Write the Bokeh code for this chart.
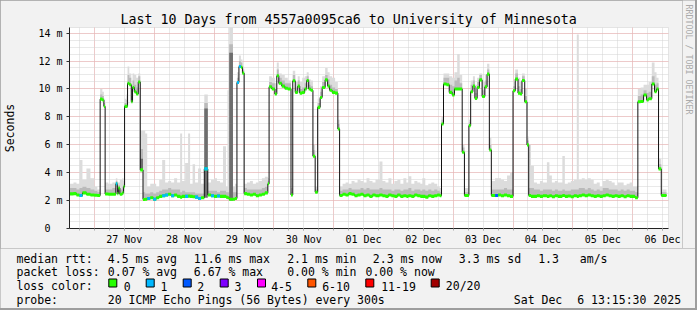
from math import pi
from bokeh.plotting import figure
from bokeh.layouts import column, row
from bokeh.models import Range1d, FixedTicker, Label, BoxAnnotation, Title
from bokeh.embed import file_html
from bokeh.resources import INLINE

# ---------------- data (hours since 26 Nov 00:00, values in ms) ----------------
hours = [14.0, 15.6, 16.8, 18.0, 19.2, 20.8, 22.4, 24.0, 25.2, 26.3, 27.2, 27.8,
         28.3, 29.6, 31.2, 32.6, 33.2, 33.6, 34.2, 35.2, 35.7, 36.1, 36.8, 37.3,
         38.0, 38.8, 39.3, 40.0, 40.8, 41.6, 42.4, 43.5, 44.4, 45.2, 46.4, 47.6,
         48.8, 50.0, 51.2, 52.4, 53.6, 54.8, 56.0, 57.2, 58.4, 59.2, 60.4, 61.6,
         62.4, 63.4, 64.4, 65.6, 66.8, 68.1, 69.5, 70.8, 72.0, 73.2, 74.4, 75.6,
         76.8, 77.4, 78.1, 79.6, 80.4, 81.2, 82.0, 82.8, 83.4, 84.1, 85.2, 86.4,
         87.6, 88.8, 90.0, 91.2, 92.4, 93.6, 94.1, 95.2, 96.4, 97.2, 98.0, 99.2,
         100.4, 101.6, 102.9, 103.6, 104.6, 105.6, 106.4, 107.4, 108.4, 109.2, 110.0, 110.8,
         111.7, 112.6, 113.6, 114.6, 115.4, 116.6, 117.6, 118.4, 119.4, 120.6, 121.7, 122.4,
         123.6, 124.8, 126.0, 127.2, 128.4, 129.6, 130.8, 132.0, 133.2, 134.4, 135.6, 136.8,
         138.4, 139.6, 140.8, 142.0, 143.2, 144.4, 145.6, 146.8, 148.0, 149.2, 150.0, 151.2,
         152.4, 153.6, 154.8, 155.6, 156.8, 158.0, 159.2, 160.4, 161.6, 162.6, 163.3, 164.1,
         165.3, 166.4, 167.6, 168.5, 169.6, 170.6, 171.6, 172.5, 174.3, 175.0, 175.9, 176.7,
         177.6, 178.5, 179.6, 180.7, 181.6, 182.5, 183.3, 184.8, 186.0, 187.2, 188.4, 189.6,
         190.8, 192.0, 192.9, 194.0, 194.9, 195.6, 196.7, 197.6, 198.3, 199.2, 200.4, 201.6,
         202.8, 204.0, 205.6, 206.6, 207.6, 208.8, 210.0, 211.8, 212.8, 214.0, 215.2, 216.4,
         217.6, 218.4, 219.6, 220.8, 222.0, 223.2, 224.4, 225.6, 226.8, 228.0, 229.2, 230.4,
         231.6, 232.8, 234.0, 235.2, 236.4, 237.6, 238.8, 240.0, 241.0, 242.1, 243.2, 244.4,
         245.6, 246.4, 247.7, 248.8, 249.6, 250.4, 251.5]
end_hour = 253.6

median = [2.48, 2.50, 2.40, 2.36, 2.55, 2.45, 2.40, 2.38, 2.36, 9.27, 9.20, 8.75,
          2.47, 2.45, 2.45, 3.20, 2.50, 2.90, 2.45, 2.55, 3.00, 8.75, 8.75, 10.40,
          10.30, 9.08, 10.10, 9.80, 9.63, 10.50, 4.20, 2.08, 2.10, 2.15, 2.20, 2.10,
          2.20, 2.30, 2.35, 2.40, 2.45, 2.35, 2.40, 2.30, 2.25, 2.30, 2.30, 2.32,
          2.30, 2.28, 2.25, 2.15, 2.20, 4.27, 2.40, 2.35, 2.30, 2.33, 2.30, 2.30,
          2.25, 2.20, 2.10, 2.10, 2.15, 10.46, 11.60, 11.55, 11.13, 2.50, 2.45, 2.40,
          2.45, 2.35, 2.40, 2.45, 2.55, 3.20, 10.15, 10.00, 9.63, 10.94, 10.40, 10.20,
          10.05, 10.00, 2.40, 10.58, 9.75, 10.20, 9.70, 9.75, 10.00, 10.60, 10.00, 9.90,
          5.18, 2.60, 8.68, 9.39, 10.10, 10.65, 10.20, 9.90, 9.75, 9.70, 7.13, 2.37,
          2.45, 2.40, 2.50, 2.45, 2.35, 2.40, 2.45, 2.35, 2.40, 2.30, 2.40, 2.35,
          2.40, 2.35, 2.30, 2.40, 2.35, 2.30, 2.40, 2.30, 2.35, 2.30, 2.35, 2.30,
          2.40, 2.35, 2.30, 2.30, 2.25, 2.35, 2.30, 2.35, 2.40, 2.35, 7.49, 10.35,
          10.30, 9.75, 9.56, 10.00, 10.00, 10.00, 5.46, 2.37, 7.37, 9.80, 10.20, 9.32,
          10.10, 10.65, 9.46, 10.15, 11.06, 5.63, 2.37, 2.37, 2.40, 2.35, 2.40, 2.35,
          2.30, 9.87, 10.70, 9.70, 9.63, 10.60, 9.08, 5.99, 2.37, 2.30, 2.30, 2.35,
          2.30, 2.35, 2.30, 2.35, 2.28, 2.35, 2.30, 2.36, 2.30, 2.33, 2.28, 2.35,
          2.30, 2.35, 2.40, 2.35, 2.40, 2.35, 2.30, 2.35, 2.30, 2.35, 2.40, 2.35,
          2.30, 2.35, 2.30, 2.35, 2.28, 2.35, 2.30, 2.30, 2.20, 9.08, 9.10, 9.56,
          9.20, 9.30, 10.35, 9.80, 10.00, 4.27, 2.37]

smoke_mid = [2.9, 2.9, 2.8, 2.9, 3.0, 2.9, 2.8, 2.7, 2.6, 9.6, 9.5, 9.0,
             2.8, 2.8, 2.9, 3.4, 2.9, 3.1, 2.8, 3.0, 3.2, 9.0, 9.2, 11.0,
             10.8, 9.5, 10.6, 10.3, 10.1, 10.9, 5.7, 2.6, 2.5, 2.5, 2.6, 2.5,
             2.6, 2.7, 2.8, 2.8, 2.9, 2.8, 2.8, 2.8, 2.6, 2.7, 2.6, 2.6,
             2.6, 2.6, 2.5, 2.5, 2.5, 9.0, 2.7, 2.7, 2.7, 2.6, 2.7, 2.7,
             2.6, 2.6, 13.2, 2.6, 2.6, 10.8, 12.0, 11.9, 11.4, 2.9, 2.8, 2.8,
             2.8, 2.8, 2.8, 2.9, 3.0, 3.4, 10.5, 10.4, 10.0, 11.4, 10.8, 10.6,
             10.4, 10.4, 2.6, 11.0, 10.1, 10.6, 10.0, 10.1, 10.4, 10.9, 10.3, 10.2,
             5.6, 2.8, 9.0, 9.8, 10.5, 11.0, 10.7, 10.3, 10.1, 10.0, 7.5, 2.7,
             2.8, 2.8, 2.9, 2.8, 2.8, 2.8, 2.9, 2.8, 2.9, 2.8, 2.8, 2.8,
             2.9, 2.8, 2.8, 2.8, 2.7, 2.8, 2.8, 2.7, 2.8, 2.8, 2.9, 2.7,
             2.8, 2.8, 2.7, 2.8, 2.7, 2.8, 2.7, 2.8, 2.7, 2.6, 7.8, 10.8,
             10.8, 10.3, 10.2, 10.6, 10.8, 10.4, 5.8, 2.6, 7.6, 10.3, 10.6, 9.7,
             10.5, 11.0, 9.9, 10.6, 11.4, 6.0, 2.8, 2.8, 2.8, 2.8, 2.9, 2.8,
             2.8, 10.2, 11.1, 10.2, 10.0, 10.9, 9.5, 6.3, 2.9, 2.9, 2.8, 2.8,
             2.7, 2.8, 2.8, 2.8, 2.7, 2.8, 2.7, 2.8, 2.7, 2.7, 2.8, 2.8,
             2.8, 2.9, 2.9, 2.8, 2.9, 2.8, 2.7, 2.8, 2.7, 2.9, 2.9, 2.8,
             2.8, 2.8, 2.7, 2.8, 2.7, 2.8, 2.7, 2.7, 2.6, 9.5, 9.6, 9.9,
             9.7, 9.8, 10.9, 10.3, 10.4, 4.6, 2.6]

smoke_top = [3.2, 3.3, 3.2, 4.9, 3.5, 4.3, 3.6, 3.0, 2.8, 10.0, 9.8, 9.3,
             3.3, 3.2, 3.3, 3.6, 3.3, 3.3, 3.5, 3.6, 3.4, 9.3, 9.6, 11.6,
             11.1, 10.3, 11.1, 11.0, 10.8, 11.1, 7.0, 7.0, 6.8, 3.0, 3.2, 3.2,
             3.0, 3.5, 4.9, 3.3, 3.4, 3.3, 3.6, 3.3, 6.8, 3.4, 4.7, 6.8,
             3.2, 4.6, 3.3, 4.3, 3.2, 9.6, 3.3, 3.5, 3.6, 3.4, 3.3, 5.9,
             3.0, 9.9, 14.5, 3.0, 3.2, 11.2, 12.4, 12.1, 11.6, 3.2, 3.3, 3.4,
             3.2, 3.3, 3.4, 3.6, 3.7, 3.6, 10.9, 10.8, 10.4, 11.9, 11.1, 11.0,
             10.8, 10.6, 2.9, 11.3, 10.5, 10.9, 10.5, 10.8, 10.9, 11.2, 10.7, 10.6,
             6.0, 3.0, 9.3, 10.2, 10.9, 11.5, 11.2, 10.9, 10.8, 10.5, 7.8, 3.0,
             3.2, 3.3, 3.2, 3.4, 3.3, 3.5, 3.4, 3.3, 3.6, 3.4, 3.3, 3.5,
             4.8, 3.4, 3.3, 3.6, 3.2, 3.4, 3.5, 3.2, 3.6, 3.3, 3.75, 3.2,
             3.4, 3.3, 3.2, 3.6, 3.1, 3.2, 3.3, 3.2, 3.0, 2.9, 8.0, 11.1,
             11.1, 10.9, 10.8, 11.2, 12.5, 11.0, 6.0, 2.9, 7.8, 10.6, 10.9, 10.3,
             10.8, 11.1, 10.5, 11.0, 11.8, 6.5, 3.4, 3.6, 3.6, 3.5, 3.4, 3.8,
             4.0, 10.5, 11.4, 10.8, 10.5, 11.1, 10.0, 6.6, 6.0, 4.5, 3.3, 3.2,
             3.4, 3.3, 4.75, 3.8, 3.3, 3.4, 3.3, 5.2, 3.2, 3.3, 3.4, 3.5,
             13.9, 3.5, 3.6, 3.5, 3.6, 3.5, 3.2, 3.3, 3.0, 3.4, 3.5, 3.4,
             3.3, 3.1, 3.3, 3.3, 3.1, 3.2, 3.3, 3.0, 3.0, 10.0, 10.1, 10.3,
             10.3, 10.5, 11.9, 11.2, 10.8, 5.0, 2.8]

dark_hours = [42.4, 68.1, 78.1]
dark_lo = [4.2, 2.2, 2.0]
dark_hi = [5.0, 8.6, 12.6]

loss_hours = [18.0, 32.6, 45.2, 47.6, 51.2, 52.4, 54.8, 60.4, 64.4, 65.6, 68.1,
              70.8, 73.2, 81.2, 82.0, 184.8]
loss_counts = [1, 1, 1, 1, 1, 1, 1, 1, 1, 1, 1, 1, 1, 1, 1, 2]

loss_labels = ["0", "1", "2", "3", "4-5", "6-10", "11-19", "20/20"]
loss_colors = ["#26ff00", "#00b8ff", "#0059ff", "#7e00ff", "#ff00ff", "#ff5500", "#ff0000", "#a10000"]

day_labels = ["27 Nov", "28 Nov", "29 Nov", "30 Nov", "01 Dec", "02 Dec",
              "03 Dec", "04 Dec", "05 Dec", "06 Dec"]
y_values = [0, 2, 4, 6, 8, 10, 12, 14]
y_labels = ["0\u00a0\u00a0", "2 m", "4 m", "6 m", "8 m", "10 m", "12 m", "14 m"]

title = "Last 10 Days from 4557a0095ca6 to University of Minnesota"
watermark = "RRDTOOL / TOBI OETIKER"
rtt_stats = ["median rtt:", "4.5 ms avg", "11.6 ms max", "2.1 ms min", "2.3 ms now",
             "3.3 ms sd", "1.3", "am/s"]
loss_stats = ["packet loss:", "0.07 % avg", "6.67 % max", "0.00 % min", "0.00 % now"]
probe_text = ["probe:", "20 ICMP Echo Pings (56 Bytes) every 300s", "Sat Dec", "6 13:15:30 2025"]

# ---------------- layout constants (page pixels) ----------------
W, H = 697, 310
PW = 695                 # content width (2px right shade shows the page colour)
MW = 682                 # width of the chart figure
MH = 248                 # height of the chart part
FL, FR, FT, FB = 67, 668, 27, 228
FONT = "DejaVu Sans Mono"
BACK = "#f2f2f2"

p = figure(width=MW, height=MH, x_range=Range1d(14.0, 254.4), y_range=Range1d(0, 14.4),
           output_backend="svg", toolbar_location=None,
           min_border_left=FL, min_border_right=MW - FR, min_border_top=FT,
           min_border_bottom=MH - FB, background_fill_color="#ffffff",
           border_fill_color=BACK, outline_line_color=None)
p.frame_align = False

p.title = Title(text=title, align="left", offset=51, text_font=FONT,
                text_font_size="13.3px", text_font_style="normal", text_color="#000000",
                standoff=2)

# grids
midnights = [24 * k for k in range(1, 11)]
six_hours = list(range(18, 255, 6))
p.xgrid.ticker = FixedTicker(ticks=midnights, minor_ticks=six_hours)
p.ygrid.ticker = FixedTicker(ticks=y_values, minor_ticks=[k * 0.5 for k in range(1, 29)])
for g in (p.xgrid, p.ygrid):
    g.grid_line_color = "#f0aaaa"
    g.grid_line_dash = "1 1"
    g.grid_line_width = 1
    g.minor_grid_line_color = "#d2d2d2"
    g.minor_grid_line_dash = "1 1"

# axes
noons = [36 + 24 * k for k in range(10)]
p.xaxis.ticker = FixedTicker(ticks=noons, minor_ticks=six_hours)
p.xaxis.major_label_overrides = {t: l for t, l in zip(noons, day_labels)}
p.yaxis.ticker = FixedTicker(ticks=y_values, minor_ticks=[])
p.yaxis.major_label_overrides = {v: l for v, l in zip(y_values, y_labels)}
for ax in (p.xaxis, p.yaxis):
    ax.axis_line_color = "#222222"
    ax.major_label_text_font = FONT
    ax.major_label_text_font_size = "10px"
    ax.major_label_text_color = "#000000"
    ax.major_tick_in = 0
p.xaxis.major_tick_out = 2
p.xaxis.minor_tick_out = 2
p.xaxis.minor_tick_in = 0
p.xaxis.major_tick_line_color = "#aaaaaa"
p.xaxis.minor_tick_line_color = "#aaaaaa"
p.xaxis.major_label_standoff = 3
p.yaxis.major_tick_out = 3
p.yaxis.major_tick_line_color = "#333333"
p.yaxis.major_label_standoff = 4
p.yaxis.axis_label = "Seconds"
p.yaxis.axis_label_text_font = FONT
p.yaxis.axis_label_text_font_size = "11.5px"
p.yaxis.axis_label_text_font_style = "normal"
p.yaxis.axis_label_text_color = "#000000"
p.yaxis.axis_label_standoff = 18

# ---------------- glyphs ----------------
edges = hours + [end_hour]
med_e = median + [median[-1]]
mid_e = smoke_mid + [smoke_mid[-1]]
top_e = smoke_top + [smoke_top[-1]]

p.varea_step(x=edges, y1=med_e, y2=top_e, step_mode="after", fill_color="#dcdcdc")
p.varea_step(x=edges, y1=med_e, y2=mid_e, step_mode="after", fill_color="#bababa")

d_idx = [hours.index(h) for h in dark_hours]
p.quad(left=[edges[i] for i in d_idx], right=[edges[i + 1] for i in d_idx],
       bottom=dark_lo, top=dark_hi, fill_color="#6e6e6e", line_color=None)

p.step(x=edges, y=med_e, mode="after", line_color="#111111", line_width=1)

band = 0.11
p.varea_step(x=edges, y1=[m - band for m in med_e], y2=[m + band for m in med_e],
             step_mode="after", fill_color=loss_colors[0])
l_idx = [hours.index(h) for h in loss_hours]
p.quad(left=[edges[i] for i in l_idx], right=[edges[i + 1] for i in l_idx],
       bottom=[median[i] - band for i in l_idx], top=[median[i] + band for i in l_idx],
       fill_color=[loss_colors[c] for c in loss_counts], line_color=None)

# ---------------- right strip with the vertical watermark ----------------
RW = PW - MW
r = figure(width=RW, height=MH, x_range=Range1d(0, RW), y_range=Range1d(0, MH),
           output_backend="svg", toolbar_location=None,
           min_border_left=0, min_border_right=0, min_border_top=0, min_border_bottom=0,
           x_axis_location=None, y_axis_location=None,
           background_fill_color=BACK, border_fill_color=BACK, outline_line_color=None)
r.frame_align = False
r.grid.visible = False
r.add_layout(Label(x=688 - MW, y=MH - 4, x_units="screen", y_units="screen",
                   text=watermark, text_font=FONT, text_font_size="8.3px",
                   text_color="#aaaaaa", text_align="left", text_baseline="middle",
                   angle=-pi / 2))

# ---------------- legend / statistics part ----------------
LH = H - 2 - MH
q = figure(width=PW, height=LH, x_range=Range1d(0, PW), y_range=Range1d(0, LH),
           output_backend="svg", toolbar_location=None,
           min_border_left=0, min_border_right=0, min_border_top=0, min_border_bottom=0,
           x_axis_location=None, y_axis_location=None,
           background_fill_color=BACK, border_fill_color=BACK, outline_line_color=None)
q.frame_align = False
q.grid.visible = False


def add_text(text, cx, cy, size=11.5, color="#000000"):
    # cx, cy: page pixel position of the text start / baseline
    q.add_layout(Label(x=cx, y=MH + LH - cy, x_units="screen", y_units="screen",
                       text=text, text_font=FONT, text_font_size=f"{size}px",
                       text_color=color, text_align="left", text_baseline="alphabetic"))


rtt_x = [16, 107.3, 193.3, 286.7, 372.3, 458.3, 537.7, 579.3]
for t, x in zip(rtt_stats, rtt_x):
    add_text(t, x, 258.3)
loss_x = [16, 107.3, 193.3, 286.7, 365.0]
for t, x in zip(loss_stats, loss_x):
    add_text(t, x, 271.9)
add_text("loss color:", 16, 285.6)
box_x = [108.3, 145.7, 182.7, 219.7, 257.0, 307.3, 365.3, 430.7]
lab_x = [123.3, 160.0, 196.7, 234.0, 270.7, 321.7, 380.7, 445.3]
for lab, col, bx, lx in zip(loss_labels, loss_colors, box_x, lab_x):
    q.add_layout(BoxAnnotation(left=bx, right=bx + 8, bottom=MH + LH - 286.5,
                               top=MH + LH - 278.5, left_units="screen", right_units="screen",
                               top_units="screen", bottom_units="screen",
                               fill_color=col, fill_alpha=1.0, line_color="#000000",
                               line_width=1, line_alpha=1.0))
    add_text(lab, lx, 285.6)
probe_x = [16, 107.3, 513.3, 576.7]
for t, x in zip(probe_text, probe_x):
    add_text(t, x, 299.2)

page = column(row(p, r, spacing=0), q, spacing=0, width=W, height=H,
              styles={"background-color": "#9e9e9e"})

open("out.html", "w").write(file_html(page, INLINE))
